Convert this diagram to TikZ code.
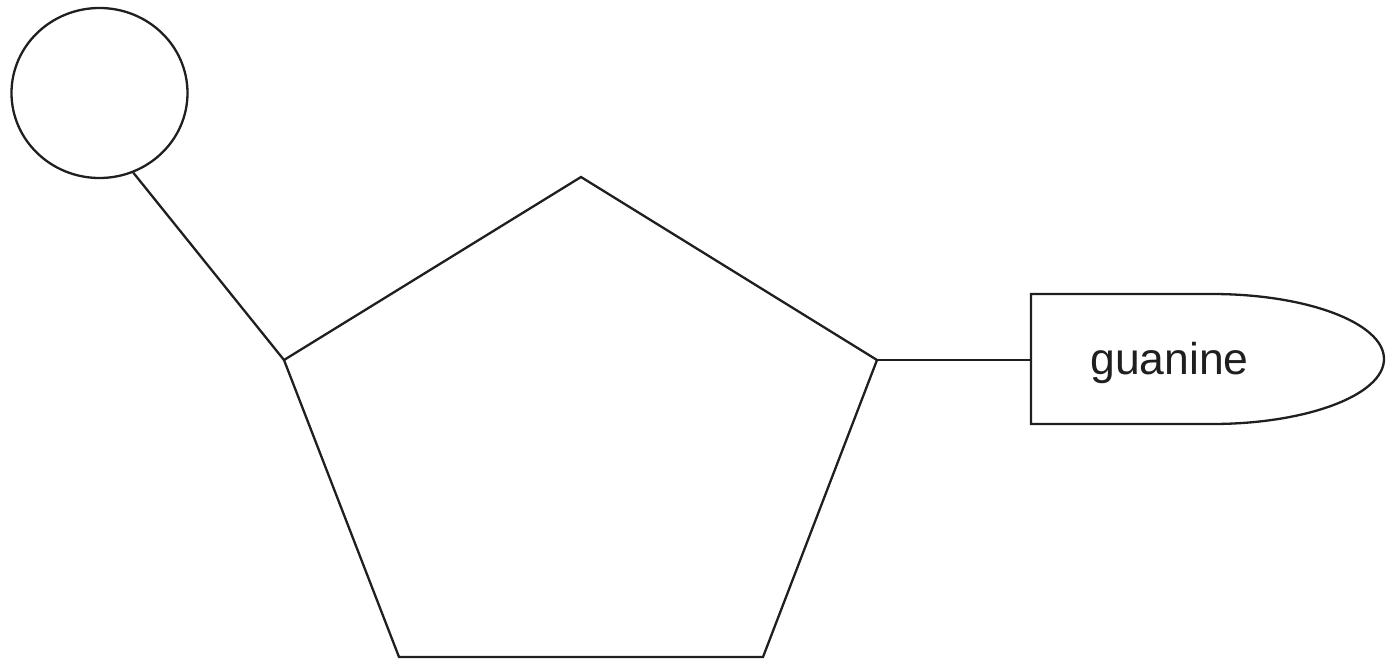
\documentclass[tikz,border=0pt]{standalone}
\usepackage{fontspec}
\setmainfont{Liberation Sans}
\usetikzlibrary{shapes.geometric}
\begin{document}
\begin{tikzpicture}[x=1pt,y=-1pt,line join=miter,
  strk/.style={draw=black!88,line width=2.3pt},
  lbl/.style={font=\fontsize{44.5}{50}\selectfont,text=black!88,inner sep=0pt,anchor=base}]
\useasboundingbox (0,0) rectangle (1396,669);
% phosphate
\node[strk,ellipse,minimum width=176pt,minimum height=170pt,inner sep=0pt] (ph) at (99.5,93) {};
% sugar pentagon vertices
\coordinate (top) at (581,177);
\coordinate (lv) at (284,360);
\coordinate (rv) at (877,360);
\coordinate (bl) at (399,657);
\coordinate (br) at (763,657);
\draw[strk] (top) -- (rv) -- (br) -- (bl) -- (lv) -- cycle;
% base shape
\coordinate (bw) at (1031,360);
\coordinate (bt) at (1031,294);
\coordinate (bb) at (1031,424);
\coordinate (bte) at (1212,294);
\draw[strk] (bb) -- (bt) -- (bte) arc[start angle=-90,end angle=90,x radius=172,y radius=65] -- cycle;
\node[lbl] (g) at (1169.5,374) {guanine};
% connectors
\draw[strk] (ph.-67) -- (lv);
\draw[strk] (rv) -- (bw);
\end{tikzpicture}
\end{document}
